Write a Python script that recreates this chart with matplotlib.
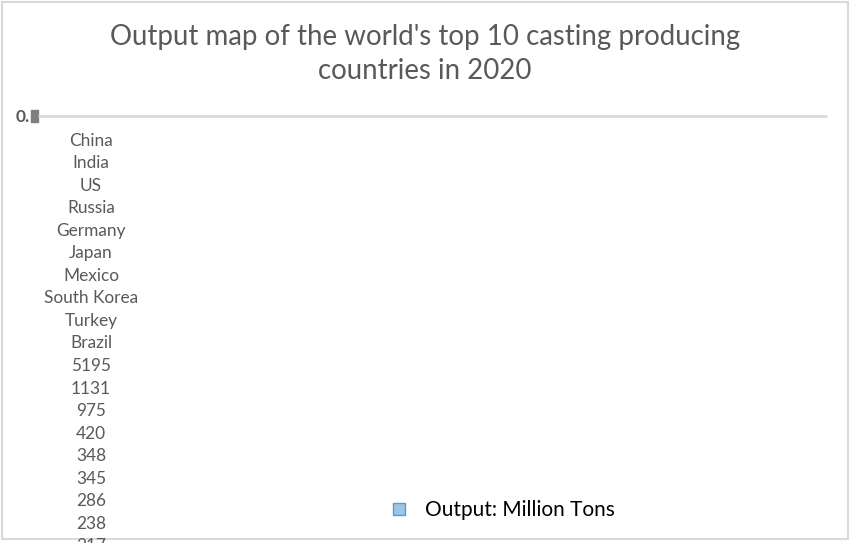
import matplotlib.pyplot as plt
from matplotlib.lines import Line2D
from matplotlib.patches import Rectangle

countries = ["China", "India", "US", "Russia", "Germany", "Japan",
             "Mexico", "South Korea", "Turkey", "Brazil"]
output_values = [5195, 1131, 975, 420, 348, 345, 286, 238, 217, 214]
series_name = "Output: Million Tons"
title = "Output map of the world's top 10 casting producing\ncountries in 2020"

GRAY = "#595959"
plt.rcParams['font.family'] = ['Lato', 'DejaVu Sans']

fig = plt.figure(figsize=(8.52, 5.43), dpi=100)
ax = fig.add_axes([0, 0, 1, 1])
ax.set_xlim(0, 852)
ax.set_ylim(543, 0)
ax.axis("off")

# chart border
ax.add_patch(Rectangle((2, 2), 846, 537, fill=False, edgecolor="#d9d9d9", lw=1.5))

ax.text(425, 54, title, ha="center", va="center", fontsize=19.9,
        color=GRAY, linespacing=1.4)

# the lone gridline / axis
ax.plot([38, 827], [116, 116], color="#d9d9d9", lw=2, solid_capstyle="butt")
ax.text(16, 117, "0.", ha="left", va="center", fontsize=12.5, fontweight="bold", color=GRAY)
ax.add_patch(Rectangle((31, 110), 7, 12, color="#7f7f7f"))

# category names followed by the values, stacked as the broken axis shows them
labels = countries + [str(v) for v in output_values]
for i, lab in enumerate(labels):
    ax.text(91, 140.5 + 22.55 * i, lab, ha="center", va="center",
            fontsize=12.4, color=GRAY)

handle = Line2D([], [], marker="s", linestyle="none", markersize=9,
                markerfacecolor="#9dc3e6", markeredgecolor="#5b9bd5")
ax.legend([handle], [series_name], loc="center left",
          bbox_to_anchor=(388.6 / 852, 1 - 510 / 543), borderaxespad=0, borderpad=0,
          frameon=False, fontsize=15, handlelength=1, handletextpad=0.75,
          labelcolor="black")

fig.savefig("out.png", dpi=100)
